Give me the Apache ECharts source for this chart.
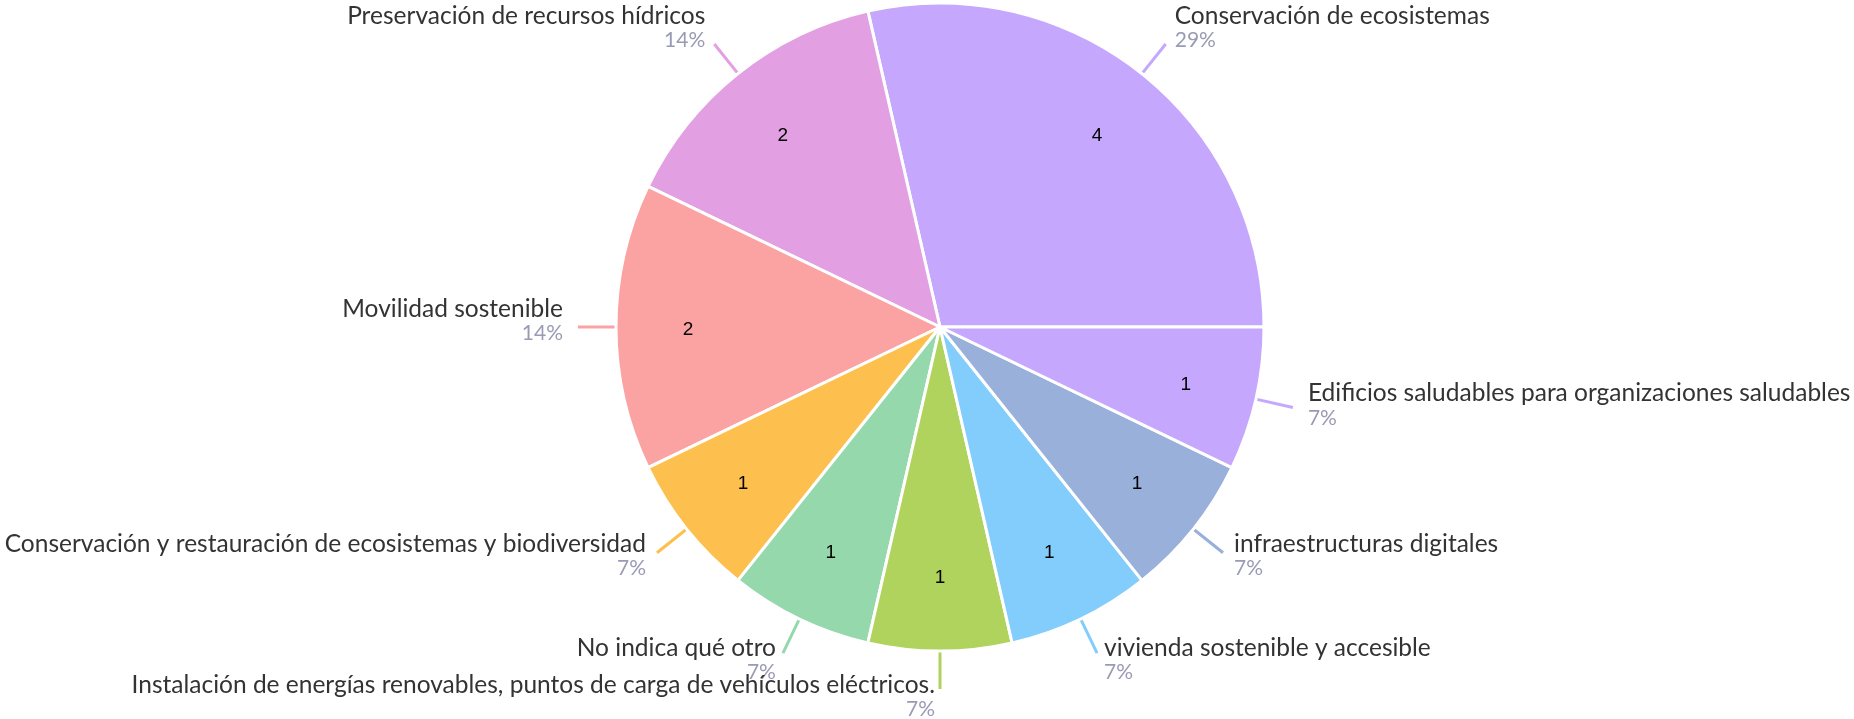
<!DOCTYPE html>
<html>
<head>
<meta charset="utf-8">
<script src="https://cdn.jsdelivr.net/npm/echarts@6/dist/echarts.min.js"></script>
<style>
  html, body { margin: 0; padding: 0; background: #fff; }
  #chart { width: 1854px; height: 719px; }
</style>
</head>
<body>
<div id="chart"></div>
<script>
// categories, counter-clockwise from 3 o'clock
const categories = [
  'Conservación de ecosistemas',
  'Preservación de recursos hídricos',
  'Movilidad sostenible',
  'Conservación y restauración de ecosistemas y biodiversidad',
  'No indica qué otro',
  'Instalación de energías renovables, puntos de carga de vehículos eléctricos.',
  'vivienda sostenible y accesible',
  'infraestructuras digitales',
  'Edificios saludables para organizaciones saludables'
]
const counts = [4, 2, 2, 1, 1, 1, 1, 1, 1]

const palette = ['#c5a8fd', '#e2a0e3', '#fba3a3', '#fdc04f', '#95d8ac', '#b0d35e', '#82cdfb', '#98b0da']

// mid angle of every slice, used to nudge labels a bit
const total = counts.reduce((a, b) => a + b, 0)
let acc = 0
const midAngles = counts.map(v => {
  const mid = (acc + v / 2) / total * Math.PI * 2
  acc += v
  return mid
})

// padding that moves the text by dy (down) and pushes it dx away from the line end
function labelPad(dy, dx, rightSide) {
  dy = Math.round(dy)
  dx = Math.max(0, Math.round(dx))
  const top = dy > 0 ? 2 * dy : 0
  const bottom = dy < 0 ? -2 * dy : 0
  return [top, rightSide ? 0 : dx, bottom, rightSide ? dx : 0]
}

const outerData = categories.map((name, i) => {
  const a = midAngles[i]
  const c = Math.cos(a)
  return {
    name: name,
    value: counts[i],
    label: { padding: labelPad(-5.5 - 13.5 * Math.sin(a), 10 * c * c, c > 0) }
  }
})
const innerData = categories.map((name, i) => ({
  name: name,
  value: counts[i],
  label: { padding: labelPad(2.5 + 4 * Math.sin(midAngles[i]), 0, true) }
}))

const chart = echarts.init(document.getElementById('chart'))

const R = 324
const option = {
  color: palette,
  animation: false,
  series: [
    {
      type: 'pie',
      center: [940, 327],
      radius: [0, R],
      startAngle: 0,
      clockwise: false,
      avoidLabelOverlap: false,
      labelLayout: { hideOverlap: false },
      itemStyle: { borderColor: '#fff', borderWidth: 3 },
      label: {
        show: true,
        position: 'outside',
        distanceToLabelLine: 5,
        formatter: p => '{n|' + p.name + '}\n{p|' + Math.round(p.percent) + '%}',
        rich: {
          n: { fontFamily: 'Lato', fontSize: 24.5, color: '#333', lineHeight: 25 },
          p: { fontFamily: 'Lato', fontSize: 21, color: '#9a9ab4', lineHeight: 24 }
        }
      },
      labelLine: {
        show: true,
        length: 38,
        length2: 0,
        smooth: false,
        lineStyle: { width: 3 }
      },
      emphasis: { disabled: true },
      data: outerData
    },
    {
      // value labels inside slices
      type: 'pie',
      center: [940, 327],
      radius: [R * 0.537, R],
      startAngle: 0,
      clockwise: false,
      silent: true,
      labelLayout: { hideOverlap: false },
      itemStyle: { color: 'transparent', borderWidth: 0 },
      label: {
        show: true,
        position: 'inside',
        formatter: p => '{v|' + p.value + '}',
        rich: {
          v: { fontFamily: 'Liberation Sans', fontSize: 19, color: '#000', lineHeight: 20 }
        }
      },
      labelLine: { show: false },
      emphasis: { disabled: true },
      data: innerData
    }
  ]
}
chart.setOption(option)
</script>
</body>
</html>
